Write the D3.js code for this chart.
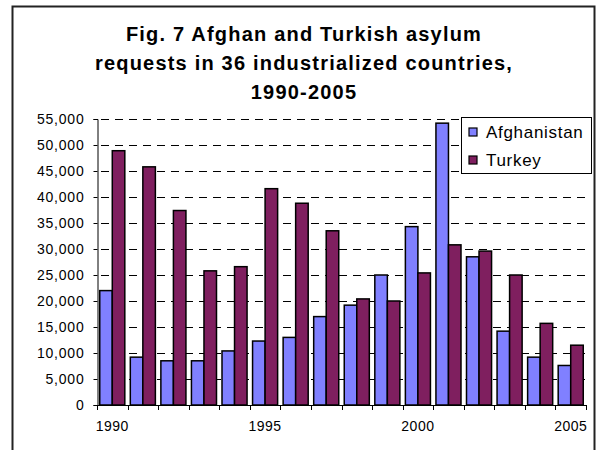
<!DOCTYPE html>
<html>
<head>
<meta charset="utf-8">
<script src="https://cdn.jsdelivr.net/npm/d3@7"></script>
<style>
  body { margin: 0; background: #fff; }
  svg text { font-family: "Liberation Sans", Arial, sans-serif; }
</style>
</head>
<body>
<div id="chart"></div>
<script>
// data
const years = [1990, 1991, 1992, 1993, 1994, 1995, 1996, 1997, 1998, 1999, 2000, 2001, 2002, 2003, 2004, 2005];
const afghanistan = [22000, 9200, 8500, 8500, 10400, 12300, 13000, 17000, 19200, 25000, 34300, 54200, 28500, 14200, 9200, 7600];
const turkey = [48900, 45800, 37400, 25800, 26600, 41600, 38800, 33500, 20400, 20000, 25400, 30800, 29600, 25000, 15700, 11500];
const seriesNames = ["Afghanistan", "Turkey"];
const yTicks = [0, 5000, 10000, 15000, 20000, 25000, 30000, 35000, 40000, 45000, 50000, 55000];
const xLabelYears = [1990, 1995, 2000, 2005];
const titleLines = ["Fig. 7 Afghan and Turkish asylum", "requests in 36 industrialized countries,", "1990-2005"];

const width = 599, height = 450;
const colors = ["#8080ff", "#7f1f5f"];

const marginLeft = 97, marginRight = 13, marginTop = 119, marginBottom = 45;
const dashLen = 8, dashStep = 14;

const svg = d3.select("#chart").append("svg")
    .attr("width", width)
    .attr("height", height)
    .attr("viewBox", [0, 0, width, height]);

// outer chart frame (bottom edge runs past the picture)
svg.append("rect")
    .attr("x", 12.5).attr("y", 6.5)
    .attr("width", 582).attr("height", 480)
    .attr("fill", "none")
    .attr("stroke", "#222")
    .attr("stroke-width", 2);

// title
svg.append("g")
    .selectAll("text")
    .data(titleLines)
    .join("text")
        .attr("x", 304)
        .attr("y", (d, i) => 41 + i * 29)
        .attr("text-anchor", "middle")
        .attr("font-size", 20)
        .attr("font-weight", "bold")
        .attr("letter-spacing", 1.2)
        .attr("fill", "#000")
        .text(d => d);

const xScale = d3.scaleBand(years, [marginLeft, width - marginRight])
    .paddingInner(0.18)
    .paddingOuter(0.09);
const xInner = d3.scaleBand(seriesNames, [0, xScale.bandwidth()]);
const yScale = d3.scaleLinear([0, 55000], [height - marginBottom, marginTop]);

// dashed grid lines under the bars
const plotW = width - marginRight - marginLeft;
const dashStarts = d3.range(4, plotW, dashStep);
const gridRows = yTicks.filter(d => d > 0).map(v => ({ v, y: Math.round(yScale(v)) }));
svg.append("g")
    .attr("class", "grid")
    .selectAll("g")
    .data(gridRows)
    .join("g")
        .attr("transform", d => `translate(${marginLeft},${d.y})`)
    .selectAll("rect")
    .data(dashStarts)
    .join("rect")
        .attr("x", d => d)
        .attr("y", 0)
        .attr("width", d => Math.min(dashLen, plotW - d))
        .attr("height", 1)
        .attr("fill", "#000");

// y axis
svg.append("g")
    .attr("transform", `translate(${marginLeft + 0.5},0)`)
    .call(d3.axisLeft(yScale)
        .tickValues(yTicks)
        .tickFormat(d3.format(","))
        .tickSize(4)
        .tickPadding(9))
    .call(g => g.select(".domain").attr("stroke", "#000"))
    .call(g => g.selectAll(".tick text")
        .attr("font-size", 14)
        .attr("letter-spacing", 0.8)
        .attr("fill", "#000")
        .attr("font-family", null));

// bars
const rows = years.map((y, i) => ({ year: y, values: [afghanistan[i], turkey[i]] }));
svg.append("g")
    .selectAll("g")
    .data(rows)
    .join("g")
        .attr("transform", d => `translate(${xScale(d.year)},0)`)
    .selectAll("rect")
    .data(d => d.values.map((v, j) => ({ name: seriesNames[j], value: v, j })))
    .join("rect")
        .attr("x", d => xInner(d.name))
        .attr("y", d => yScale(d.value))
        .attr("width", xInner.bandwidth())
        .attr("height", d => yScale(0) - yScale(d.value))
        .attr("fill", d => colors[d.j])
        .attr("stroke", "#000")
        .attr("stroke-width", 1.5);

// x axis: line, ticks at category boundaries, labels every 5 years
const x0 = yScale(0);
const gap = (xScale.step() - xScale.bandwidth()) / 2;
const bounds = years.map(y => xScale(y) - gap).concat([xScale(years[years.length - 1]) + xScale.bandwidth() + gap]);
const xAxisG = svg.append("g");
xAxisG.append("line")
    .attr("x1", marginLeft).attr("x2", width - marginRight)
    .attr("y1", x0 + 0.5).attr("y2", x0 + 0.5)
    .attr("stroke", "#000");
xAxisG.selectAll("line.tk")
    .data(bounds)
    .join("line")
        .attr("class", "tk")
        .attr("x1", d => Math.round(d) + 0.5).attr("x2", d => Math.round(d) + 0.5)
        .attr("y1", x0).attr("y2", x0 + 5)
        .attr("stroke", "#000");
xAxisG.selectAll("text")
    .data(xLabelYears)
    .join("text")
        .attr("x", d => xScale(d) + xScale.bandwidth() / 2)
        .attr("y", 431)
        .attr("text-anchor", "middle")
        .attr("font-size", 14)
        .attr("letter-spacing", 0.5)
        .attr("fill", "#000")
        .text(d => d);

// legend
const legend = svg.append("g").attr("transform", "translate(461,117)");
legend.append("rect")
    .attr("x", 0.5).attr("y", 0.5)
    .attr("width", 130).attr("height", 56)
    .attr("fill", "#fff")
    .attr("stroke", "#000")
    .attr("stroke-width", 1);
const items = legend.selectAll("g.item")
    .data(seriesNames)
    .join("g")
        .attr("class", "item")
        .attr("transform", (d, i) => `translate(0,${i * 28})`);
items.append("rect")
    .attr("x", 8).attr("y", 11)
    .attr("width", 8).attr("height", 8)
    .attr("fill", (d, i) => colors[i])
    .attr("stroke", "#000")
    .attr("stroke-width", 1.2);
items.append("text")
    .attr("x", 25)
    .attr("y", 21)
    .attr("font-size", 17)
    .attr("letter-spacing", 0.7)
    .attr("fill", "#000")
    .text(d => d);
</script>
</body>
</html>
